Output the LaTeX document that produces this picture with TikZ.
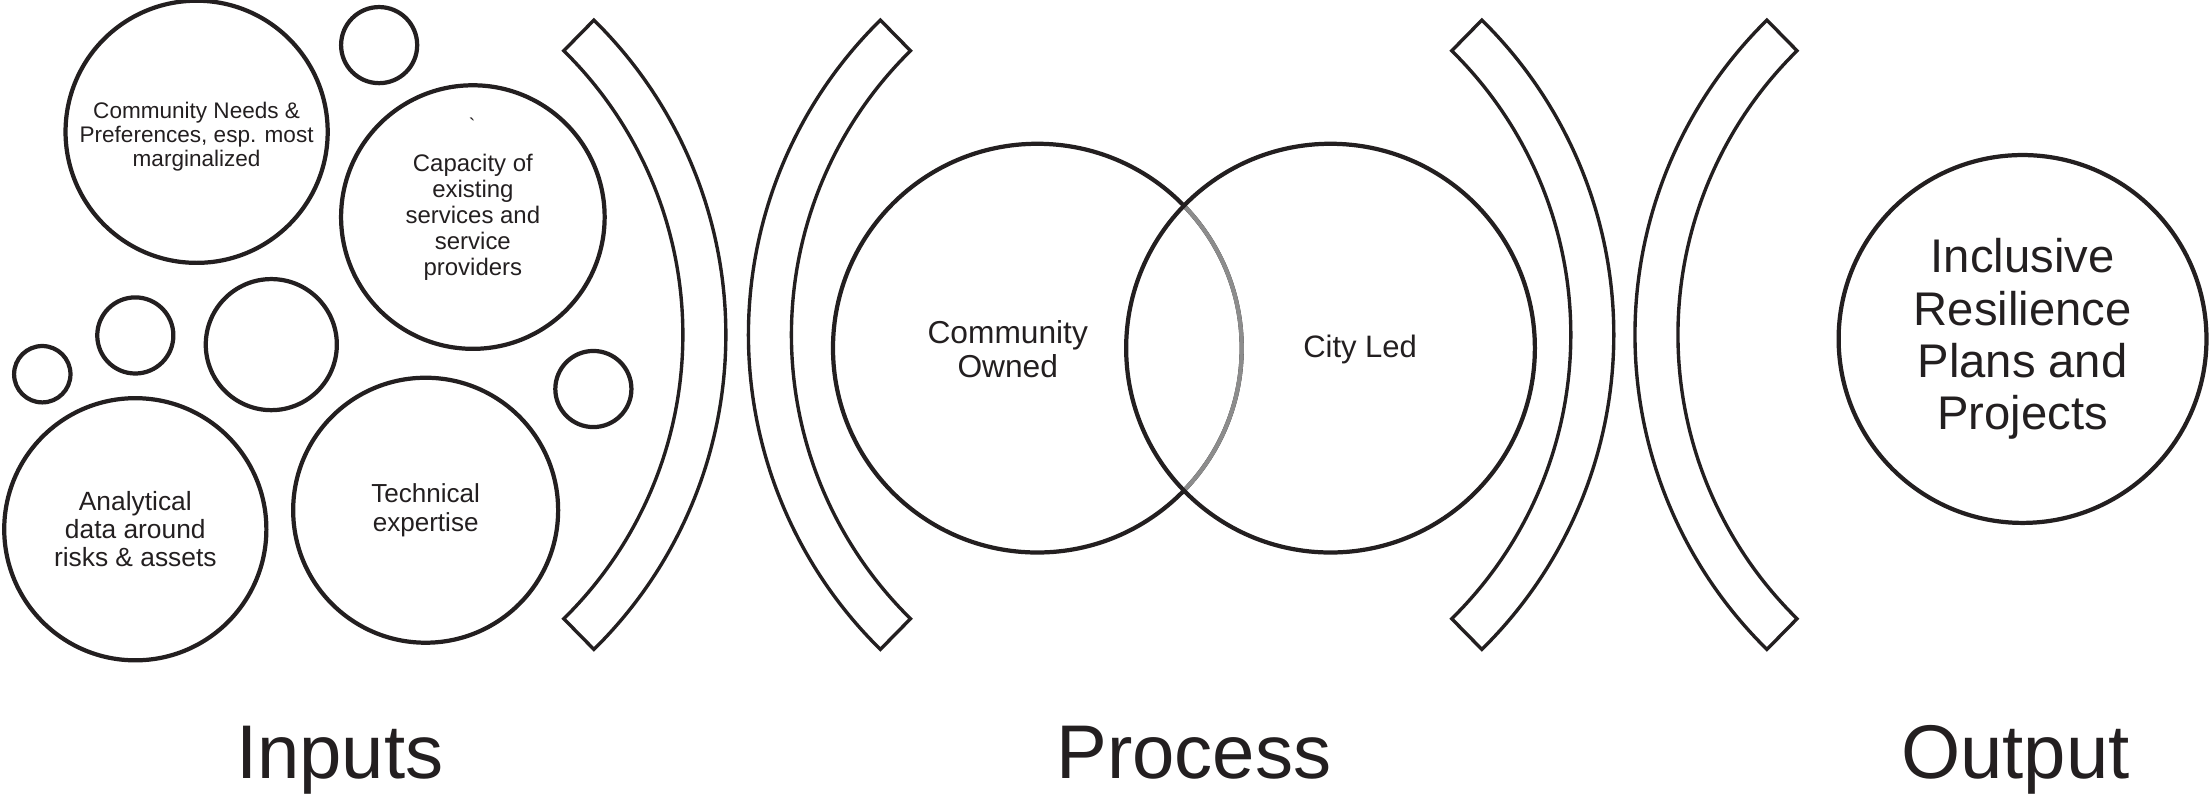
\documentclass[tikz,border=0pt]{standalone}
\usepackage{fontspec}
\setmainfont{Liberation Sans}

\definecolor{ink}{RGB}{35,31,32}
\definecolor{overlap}{RGB}{140,140,140}

\begin{document}
\begin{tikzpicture}[x=1pt, y=-1pt,
    bubble/.style={draw=ink, line width=3pt, circle, inner sep=0pt, align=center, text=ink},
    band/.style={draw=ink, line width=2.4pt},
    ring/.style={draw=ink, line width=3pt},
    heading/.style={anchor=base, text=ink, font=\fontsize{54}{60}\selectfont}]
    \useasboundingbox (0, 0) rectangle (1568, 563);

    % inputs
    \node[bubble, minimum size=186pt,
        label={[text=ink, align=center, yshift=-3.5pt, font=\fontsize{16}{17}\selectfont]center:Community Needs \&\\Preferences, esp. most\\marginalized}]
        (needs) at (139.5, 93.5) {};
    \node[bubble, minimum size=187pt, font=\fontsize{17}{18.5}\selectfont] (capacity) at (335.5, 154) {Capacity of\\existing\\services and\\service\\providers};
    \node[text=ink, font=\fontsize{14}{14}\selectfont] (tick) at (335, 89) {\textasciigrave};
    \node[bubble, minimum size=186pt, font=\fontsize{18.7}{20}\selectfont] (analytical) at (96, 375.5) {Analytical\\data around\\risks \& assets};
    \node[bubble, minimum size=188pt, font=\fontsize{18.5}{20}\selectfont] (technical) at (302, 362) {Technical\\expertise};

    \node[bubble, minimum size=54pt] (dotA) at (269, 32) {};
    \node[bubble, minimum size=54pt] (dotB) at (96, 238) {};
    \node[bubble, minimum size=40pt] (dotC) at (30, 265.5) {};
    \node[bubble, minimum size=93pt] (dotD) at (192.5, 244.5) {};
    \node[bubble, minimum size=54pt] (dotE) at (421, 276) {};

    % brackets
    \draw[band, shift={(202, 237.5)}] (-45.5:313) arc[start angle=-45.5, end angle=45.5, radius=313]
        -- (45.5:282.5) arc[start angle=45.5, end angle=-45.5, radius=282.5] -- cycle;
    \draw[band, shift={(844, 237.5)}] (134.5:313) arc[start angle=134.5, end angle=225.5, radius=313]
        -- (225.5:282.5) arc[start angle=225.5, end angle=134.5, radius=282.5] -- cycle;
    \draw[band, shift={(832, 237.5)}] (-45.5:313) arc[start angle=-45.5, end angle=45.5, radius=313]
        -- (45.5:282.5) arc[start angle=45.5, end angle=-45.5, radius=282.5] -- cycle;
    \draw[band, shift={(1473, 237.5)}] (134.5:313) arc[start angle=134.5, end angle=225.5, radius=313]
        -- (225.5:282.5) arc[start angle=225.5, end angle=134.5, radius=282.5] -- cycle;

    % process
    \draw[ring] (736, 247) circle (145);
    \draw[overlap, line width=3pt] ([shift={(736, 247)}]-44.2:145) arc[start angle=-44.2, end angle=44.2, radius=145];
    \draw[ring] (944, 247) circle (145);
    \node[text=ink, align=center, font=\fontsize{22.5}{24}\selectfont] (owned) at (715, 248) {Community\\Owned};
    \node[text=ink, font=\fontsize{22}{24}\selectfont] (led) at (965, 248) {City Led};

    % output
    \node[bubble, minimum size=261pt, font=\fontsize{33.5}{37}\selectfont] (plans) at (1435, 240.5) {Inclusive\\Resilience\\Plans and\\Projects};

    \node[heading] (inputs) at (241, 552) {Inputs};
    \node[heading] (process) at (847, 552) {Process};
    \node[heading] (output) at (1430, 552) {Output};
\end{tikzpicture}
\end{document}
